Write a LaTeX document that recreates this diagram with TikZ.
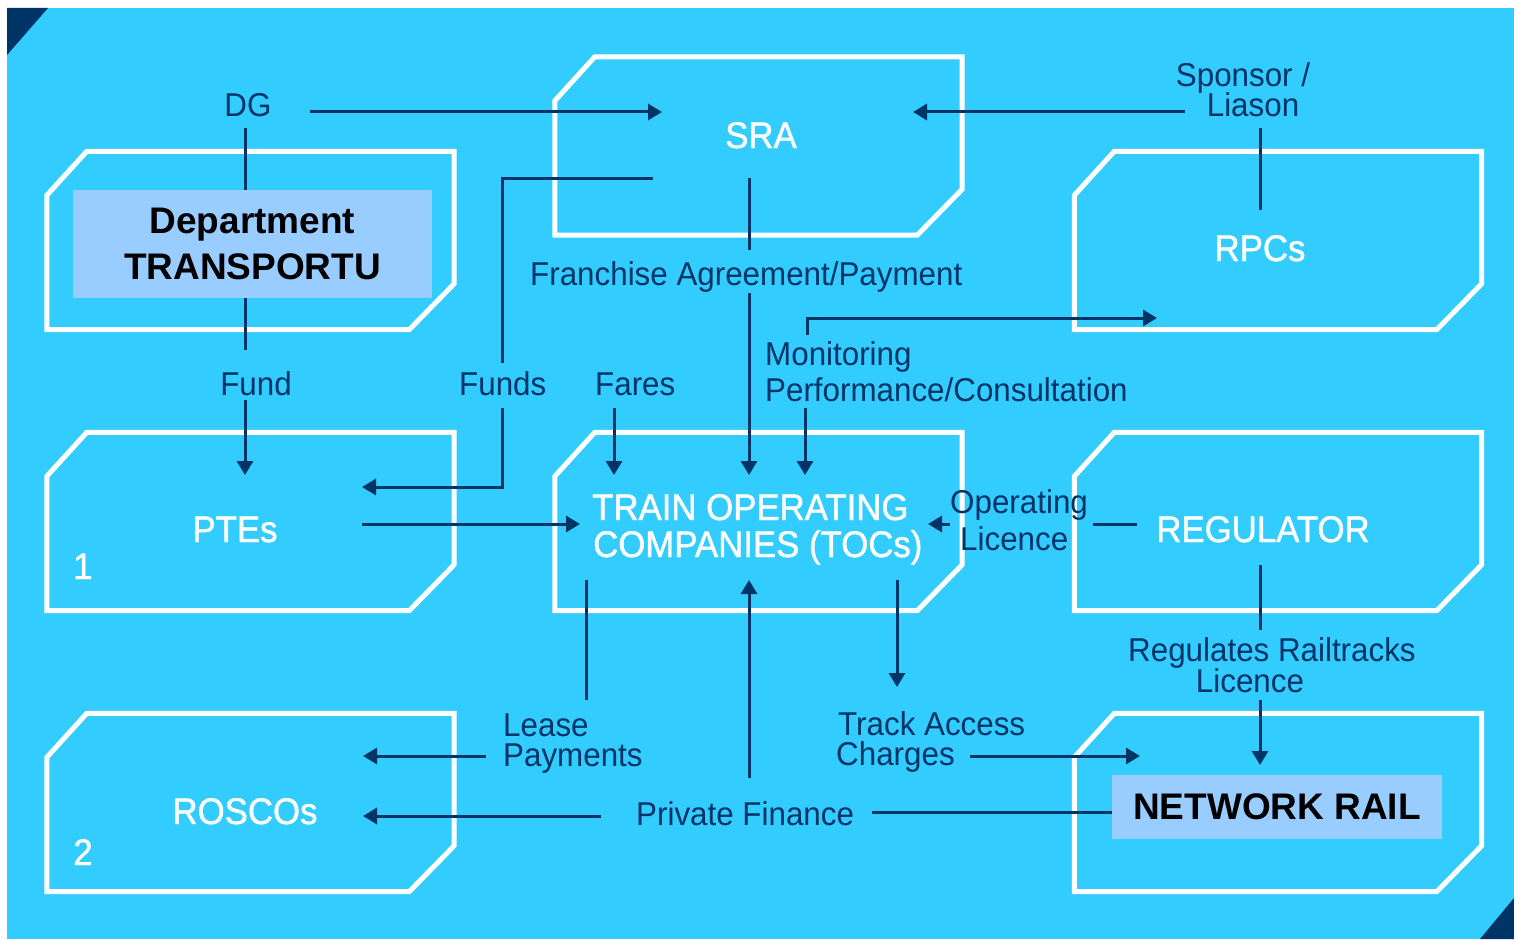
\documentclass[tikz,border=0pt]{standalone}
\usepackage{fontspec}
\setmainfont{Liberation Sans}
\newfontfamily\lblfont[FakeStretch=0.95]{Liberation Sans}
\newfontfamily\boxfont[FakeStretch=0.94,FakeBold=1.2]{Liberation Sans}
\usetikzlibrary{arrows.meta}
\definecolor{sky}{HTML}{33CCFF}
\definecolor{navy}{HTML}{003366}
\definecolor{pale}{HTML}{99CCFF}

% white frame with the top-left and bottom-right corners cut off
\newcommand{\cutbox}[1]{%
  \draw[frameline] ([yshift=-44pt]#1.north west) -- ([xshift=40pt]#1.north west)
    -- (#1.north east) -- ([yshift=46pt]#1.south east)
    -- ([xshift=-45pt]#1.south east) -- (#1.south west) -- cycle;}

\begin{document}
\begin{tikzpicture}[x=1pt,y=-1pt,
  region/.style={inner sep=0pt, minimum width=407pt, minimum height=178pt},
  frameline/.style={draw=white, line width=5pt, line join=miter},
  link/.style={draw=navy, line width=3pt},
  arr/.style={link, -{Triangle[length=14pt,width=16pt]}},
  lbl/.style={text=navy, inner sep=0pt, font=\lblfont\fontsize{33}{33}\selectfont},
  boxtxt/.style={text=white, inner sep=0pt, font=\boxfont\fontsize{37}{37}\selectfont},
  hl/.style={fill=pale, text=black, inner sep=0pt, align=center,
             font=\bfseries\fontsize{37}{46}\selectfont}]

\useasboundingbox (0,0) rectangle (1514,939);
\fill[white] (0,0) rectangle (1514,939);
\fill[sky] (7,8) rectangle (1514,939);
\fill[navy] (7,8) -- (48,8) -- (7,55) -- cycle;
\fill[navy] (1514,898) -- (1514,939) -- (1480,939) -- cycle;

% box regions
\node[region] (dft) at (250.5,240.5) {};
\node[region] (sra) at (758.5,146) {};
\node[region] (rpc) at (1278,240.5) {};
\node[region] (pte) at (250.5,521.5) {};
\node[region] (toc) at (758.5,521.5) {};
\node[region] (reg) at (1278,521.5) {};
\node[region] (ros) at (250.5,802.5) {};
\node[region] (nr)  at (1278,802.5) {};
\foreach \b in {dft,sra,rpc,pte,toc,reg,ros,nr} {\cutbox{\b}}

% labels
\node[lbl, anchor=base] (dg) at (248,117) {DG};
\node[lbl, anchor=base] (spon1) at (1243,87) {Sponsor /};
\node[lbl, anchor=base] (spon2) at (1253,117) {Liason};
\node[lbl, anchor=base west] (fran) at (530,285) {Franchise Agreement/Payment};
\node[lbl, anchor=base] (fund) at (256,395) {Fund};
\node[lbl, anchor=base west] (funds) at (459,395) {Funds};
\node[lbl, anchor=base west] (fares) at (595,395) {Fares};
\node[lbl, anchor=base west] (mon1) at (765,365) {Monitoring};
\node[lbl, anchor=base west] (mon2) at (765,401) {Performance/Consultation};
\node[lbl, anchor=base west] (op1) at (950,513) {Operating};
\node[lbl, anchor=base west] (op2) at (960,550) {Licence};
\node[lbl, anchor=base west] (rg1) at (1128,661) {Regulates Railtracks};
\node[lbl, anchor=base] (rg2) at (1250,692) {Licence};
\node[lbl, anchor=base west] (ls1) at (503,736) {Lease};
\node[lbl, anchor=base west] (ls2) at (503,766) {Payments};
\node[lbl, anchor=base west] (tr1) at (838,735) {Track Access};
\node[lbl, anchor=base west] (tr2) at (836,765) {Charges};
\node[lbl, anchor=base west] (pf) at (636,825) {Private Finance};

% connector end points
\coordinate (dgR) at (310,112);   \coordinate (sraL) at (662,112);
\coordinate (dgB) at (245,128);   \coordinate (dftT) at (245,192);
\coordinate (dftB) at (245,296);  \coordinate (fundT) at (245,350);
\coordinate (fundB) at (245,400); \coordinate (pteT) at (245,475);
\coordinate (sponL) at (1185,112); \coordinate (sraR) at (913,112);
\coordinate (lsnB) at (1260,128); \coordinate (rpcT) at (1260,210);
\coordinate (sraF) at (653,178);  \coordinate (fundsK) at (502,178);
\coordinate (fundsT) at (502,363); \coordinate (fundsB) at (502,408);
\coordinate (fundsK2) at (502,487); \coordinate (pteR) at (362,487);
\coordinate (sraB) at (749,178);  \coordinate (franT) at (749,250);
\coordinate (franB) at (749,293); \coordinate (tocT1) at (749,475);
\coordinate (faresB) at (614,408); \coordinate (tocT0) at (614,475);
\coordinate (monT) at (807,335);  \coordinate (monK) at (807,318);
\coordinate (rpcB) at (1157,318);
\coordinate (monB) at (805,408);  \coordinate (tocT2) at (805,475);
\coordinate (pteE) at (362,524);  \coordinate (tocL) at (580,524);
\coordinate (regL) at (1137,524); \coordinate (opR) at (1093,524);
\coordinate (opL) at (950,524);   \coordinate (tocR) at (928,524);
\coordinate (regB) at (1260,565); \coordinate (rgT) at (1260,630);
\coordinate (rgB) at (1260,700);  \coordinate (nrT) at (1260,765);
\coordinate (tocB1) at (586,580); \coordinate (lsT) at (586,700);
\coordinate (lsL) at (486,756);   \coordinate (rosA) at (363,756);
\coordinate (pfT) at (749,778);   \coordinate (tocB2) at (749,580);
\coordinate (pfL) at (601,816);   \coordinate (rosB) at (363,816);
\coordinate (pfR) at (872,812);   \coordinate (nrL) at (1113,812);
\coordinate (tocB3) at (897,580); \coordinate (trT) at (897,687);
\coordinate (trR) at (970,756);   \coordinate (nrA) at (1140,756);

% connectors
\draw[arr] (dgR) -- (sraL);
\draw[link] (dgB) -- (dftT);
\draw[link] (dftB) -- (fundT);
\draw[arr] (fundB) -- (pteT);
\draw[arr] (sponL) -- (sraR);
\draw[link] (lsnB) -- (rpcT);
\draw[link] (sraF) -- (fundsK) -- (fundsT);
\draw[arr] (fundsB) -- (fundsK2) -- (pteR);
\draw[link] (sraB) -- (franT);
\draw[arr] (franB) -- (tocT1);
\draw[arr] (faresB) -- (tocT0);
\draw[arr] (monT) -- (monK) -- (rpcB);
\draw[arr] (monB) -- (tocT2);
\draw[arr] (pteE) -- (tocL);
\draw[link] (regL) -- (opR);
\draw[arr] (opL) -- (tocR);
\draw[link] (regB) -- (rgT);
\draw[arr] (rgB) -- (nrT);
\draw[link] (tocB1) -- (lsT);
\draw[arr] (lsL) -- (rosA);
\draw[arr] (pfT) -- (tocB2);
\draw[arr] (pfL) -- (rosB);
\draw[link] (pfR) -- (nrL);
\draw[arr] (tocB3) -- (trT);
\draw[arr] (trR) -- (nrA);

% highlighted names
\node[hl, minimum width=359pt, minimum height=108pt] (dfthl) at (252.5,244) {Department\\TRANSPORTU};
\node[hl, minimum width=330pt, minimum height=64pt] (nrhl) at (1277,807) {NETWORK RAIL};

% box titles
\node[boxtxt, anchor=base] (sraT) at (761,148) {SRA};
\node[boxtxt, anchor=base] (rpcT2) at (1260,261) {RPCs};
\node[boxtxt, anchor=base] (pteT2) at (235,542) {PTEs};
\node[boxtxt, anchor=base] (regT) at (1263,542) {REGULATOR};
\node[boxtxt, anchor=base] (rosT) at (245,824) {ROSCOs};
\node[boxtxt, anchor=base west] (toc1) at (592,520) {TRAIN OPERATING};
\node[boxtxt, anchor=base west] (toc2) at (593,557) {COMPANIES (TOCs)};
\node[boxtxt, anchor=base] (one) at (83,579) {1};
\node[boxtxt, anchor=base] (two) at (83,865) {2};
\end{tikzpicture}
\end{document}
